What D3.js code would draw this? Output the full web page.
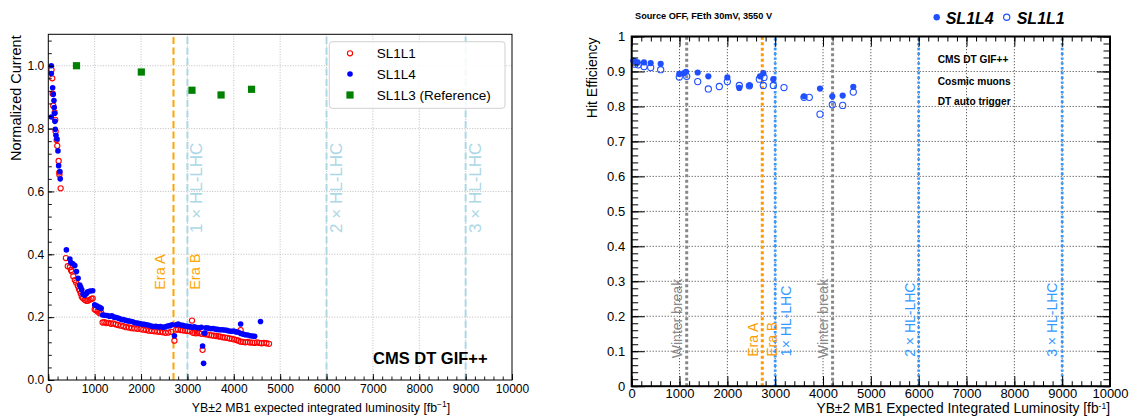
<!DOCTYPE html>
<html><head><meta charset="utf-8">
<script src="https://cdn.jsdelivr.net/npm/d3@7"></script>
<style>
body{margin:0;background:#fff;}
svg{display:block;font-family:"Liberation Sans",Arial,Helvetica,sans-serif;}
</style>
</head><body>
<svg id="c" width="1135" height="416"></svg>
<script>
// ================= DATA =================
// Left panel: normalized current vs integrated luminosity
const leftSL1L1 = [
 [70,0.987],[86,0.960],[94,0.911],[107,0.873],[137,0.851],[150,0.828],[158,0.791],[180,0.764],[193,0.745],[223,0.697],[236,0.660],[240,0.653],[266,0.610],
 [379,0.388],[420,0.362],[465,0.359],[490,0.350],[508,0.345],[540,0.330],[572,0.318],[600,0.310],[636,0.300],[660,0.290],[679,0.284],[700,0.275],[722,0.265],[750,0.260],[786,0.255],[820,0.252],[850,0.252],[890,0.255],[930,0.258],[957,0.260],
 [1000,0.225],[1021,0.223],[1060,0.218],[1107,0.212],[1140,0.214],[1171,0.183],[1210,0.184],[1250,0.181],[1300,0.182],[1350,0.179],[1400,0.180],[1450,0.177],[1500,0.175],[1563,0.173],[1620,0.171],[1680,0.168],[1740,0.167],[1800,0.165],[1860,0.164],[1920,0.163],[1992,0.162],
 [2050,0.160],[2110,0.159],[2170,0.157],[2230,0.156],[2290,0.155],[2350,0.154],[2410,0.153],[2470,0.152],[2530,0.150],[2590,0.151],[2650,0.153],[2720,0.125],[2760,0.160],[2800,0.161],[2850,0.159],[2900,0.158],[2950,0.157],[3000,0.156],[3050,0.155],[3099,0.189],
 [3120,0.150],[3170,0.149],[3206,0.149],[3250,0.150],[3300,0.147],[3327,0.096],[3370,0.146],[3420,0.145],[3470,0.143],[3520,0.142],[3570,0.141],[3620,0.140],[3670,0.139],[3706,0.138],[3760,0.136],[3810,0.135],[3860,0.134],[3910,0.132],[3960,0.131],
 [4010,0.129],[4060,0.127],[4100,0.125],[4148,0.159],[4150,0.122],[4200,0.121],[4250,0.120],[4300,0.121],[4350,0.119],[4400,0.119],[4450,0.118],[4500,0.120],[4550,0.118],[4600,0.117],[4650,0.118],[4705,0.117],[4760,0.115]
];
const leftSL1L4 = [
 [64,1.000],[64,0.975],[94,0.930],[107,0.909],[122,0.889],[128,0.867],[137,0.849],[64,0.837],[143,0.823],[150,0.798],[165,0.779],[186,0.767],[208,0.729],[223,0.682],[250,0.663],[257,0.640],
 [390,0.414],[465,0.385],[486,0.374],[530,0.370],[572,0.364],[608,0.345],[643,0.324],[679,0.302],[700,0.295],[722,0.287],[750,0.273],[780,0.270],[807,0.273],[830,0.277],[850,0.281],[900,0.283],[957,0.284],
 [1000,0.239],[1043,0.236],[1075,0.232],[1107,0.231],[1140,0.228],[1171,0.207],[1220,0.206],[1270,0.205],[1320,0.203],[1370,0.204],[1420,0.200],[1470,0.199],[1520,0.196],[1570,0.193],[1620,0.192],[1670,0.190],[1720,0.188],[1770,0.187],[1820,0.185],[1870,0.182],[1920,0.181],[1970,0.180],
 [2020,0.178],[2070,0.177],[2120,0.176],[2170,0.174],[2220,0.172],[2270,0.170],[2320,0.171],[2370,0.169],[2420,0.170],[2470,0.168],[2520,0.169],[2570,0.172],[2620,0.173],[2670,0.176],[2720,0.141],[2760,0.176],[2800,0.178],[2850,0.175],[2900,0.174],[2950,0.172],
 [3000,0.171],[3050,0.170],[3100,0.168],[3150,0.169],[3200,0.167],[3250,0.166],[3300,0.168],[3327,0.108],[3349,0.053],[3370,0.149],[3400,0.166],[3450,0.165],[3500,0.163],[3550,0.164],[3600,0.162],[3650,0.161],[3700,0.160],[3750,0.160],[3800,0.159],[3850,0.158],[3900,0.156],[3950,0.155],
 [4000,0.156],[4050,0.153],[4100,0.152],[4148,0.178],[4150,0.148],[4200,0.146],[4250,0.144],[4300,0.143],[4350,0.141],[4400,0.140],[4450,0.139],[4576,0.186]
];
const leftSL1L3 = [[608,1.000],[2006,0.980],[3098,0.922],[3726,0.907],[4383,0.925]];
const leftLegend = ["SL1L1","SL1L4","SL1L3 (Reference)"];
const leftXTicks = [0,1000,2000,3000,4000,5000,6000,7000,8000,9000,10000];
const leftYTicks = [0,0.2,0.4,0.6,0.8,1.0];
const leftEraLines = [2700];
const leftHLLines = [3000,6000,9000];
const leftHLLabels = ["1 × HL-LHC","2 × HL-LHC","3 × HL-LHC"];

// Right panel: hit efficiency vs integrated luminosity
const rightSL1L4 = [
 [34,0.931],[69,0.929],[125,0.926],[257,0.926],[397,0.924],[606,0.922],[995,0.893],[1093,0.895],[1135,0.899],[1380,0.897],[1602,0.886],[2000,0.883],[2250,0.853],[2467,0.860],[2682,0.886],[2752,0.895],[2961,0.878],[3602,0.829],[3937,0.851],[4194,0.829],[4411,0.831],[4633,0.856]
];
const rightSL1L1 = [
 [69,0.921],[138,0.919],[257,0.914],[397,0.911],[606,0.905],[995,0.884],[1150,0.886],[1380,0.871],[1602,0.850],[1832,0.857],[2000,0.871],[2250,0.860],[2460,0.859],[2668,0.878],[2752,0.860],[2766,0.883],[2961,0.860],[3184,0.854],[3602,0.826],[3713,0.826],[3937,0.778],[4194,0.805],[4411,0.803],[4633,0.841]
];
const rightXTicks = [0,1000,2000,3000,4000,5000,6000,7000,8000,9000,10000];
const rightYTicks = [0,0.1,0.2,0.3,0.4,0.5,0.6,0.7,0.8,0.9,1];
const rightWinterLines = [1150,4200];
const rightEraLines = [2730];
const rightHLLines = [3000,6000,9000];
const rightHLLabels = ["1× HL-LHC","2 × HL-LHC","3 × HL-LHC"];
const rightInfo = ["CMS DT GIF++","Cosmic muons","DT auto trigger"];

// ================= DRAW =================
const svg = d3.select('#c');

function vtext(g, x, y, txt, color, size, weight){
  return g.append('text').attr('transform',`translate(${x},${y}) rotate(-90)`)
    .attr('fill',color).style('font-size',size+'px').style('font-weight',weight||'normal').text(txt);
}

// ---------- LEFT ----------
const lx = d3.scaleLinear().domain([0,10000]).range([48.3,512]);
const ly = d3.scaleLinear().domain([0,1.1]).range([380,34.3]);
const gl = svg.append('g');

// grid
gl.append('g').selectAll('line').data(leftXTicks.slice(1,-1)).join('line')
  .attr('x1',d=>lx(d)).attr('x2',d=>lx(d)).attr('y1',ly(0)).attr('y2',ly(1.1))
  .attr('stroke','#b8b8b8').attr('stroke-width',0.9).attr('stroke-dasharray','1,1.6');
gl.append('g').selectAll('line').data(leftYTicks.slice(1)).join('line')
  .attr('x1',lx(0)).attr('x2',lx(10000)).attr('y1',d=>ly(d)).attr('y2',d=>ly(d))
  .attr('stroke','#b8b8b8').attr('stroke-width',0.9).attr('stroke-dasharray','1,1.6');

// vertical lines
gl.append('g').selectAll('line').data(leftEraLines).join('line')
  .attr('x1',d=>lx(d)).attr('x2',d=>lx(d)).attr('y1',ly(0)).attr('y2',ly(1.1))
  .attr('stroke','#ffa500').attr('stroke-width',2).attr('stroke-dasharray','7,3.5');
gl.append('g').selectAll('line').data(leftHLLines).join('line')
  .attr('x1',d=>lx(d)).attr('x2',d=>lx(d)).attr('y1',ly(0)).attr('y2',ly(1.1))
  .attr('stroke','#add8e6').attr('stroke-width',2).attr('stroke-dasharray','7,3.5');

// labels on lines
vtext(gl, lx(leftEraLines[0])-8, ly(0.287), 'Era A', '#ffa500', 14.5);
vtext(gl, lx(leftHLLines[0])+12.5, ly(0.287), 'Era B', '#ffa500', 14.5);
leftHLLines.forEach((v,i)=>vtext(gl, lx(v)+15, ly(0.468), leftHLLabels[i], '#add8e6', 17));

// data
gl.append('g').selectAll('circle').data(leftSL1L1).join('circle')
  .attr('cx',d=>lx(d[0])).attr('cy',d=>ly(d[1])).attr('r',2.6)
  .attr('fill','none').attr('stroke','#ff0000').attr('stroke-width',1.1);
gl.append('g').selectAll('circle').data(leftSL1L4).join('circle')
  .attr('cx',d=>lx(d[0])).attr('cy',d=>ly(d[1])).attr('r',2.8).attr('fill','#0000ff');
gl.append('g').selectAll('rect').data(leftSL1L3).join('rect')
  .attr('x',d=>lx(d[0])-3.6).attr('y',d=>ly(d[1])-3.6).attr('width',7.2).attr('height',7.2).attr('fill','#008000');

// axes
const lxa = gl.append('g').attr('transform',`translate(0,${ly(0)})`)
  .call(d3.axisBottom(lx).tickValues(leftXTicks).tickSize(-6).tickPadding(4).tickFormat(d3.format('d')));
const lxm = gl.append('g').attr('transform',`translate(0,${ly(0)})`)
  .call(d3.axisBottom(lx).tickValues(d3.range(0,10001,200)).tickSize(-3.5).tickFormat(''));
const lya = gl.append('g').attr('transform',`translate(${lx(0)},0)`)
  .call(d3.axisLeft(ly).tickValues(leftYTicks).tickSize(-6).tickPadding(4).tickFormat(d3.format('.1f')));
const lym = gl.append('g').attr('transform',`translate(${lx(0)},0)`)
  .call(d3.axisLeft(ly).tickValues(d3.range(0,1.1,0.04)).tickSize(-3.5).tickFormat(''));
[lxa,lxm,lya,lym].forEach(a=>{a.select('.domain').remove(); a.selectAll('text').style('font-size','12px').attr('fill','#000'); a.selectAll('line').attr('stroke','#000').attr('stroke-width',0.9);});
gl.append('rect').attr('x',lx(0)).attr('y',ly(1.1)).attr('width',lx(10000)-lx(0)).attr('height',ly(0)-ly(1.1))
  .attr('fill','none').attr('stroke','#000').attr('stroke-width',1);

// axis titles
gl.append('text').attr('transform',`translate(21,${ly(1.1)+1}) rotate(-90)`).attr('text-anchor','end')
  .style('font-size','14.5px').text('Normalized Current');
const lxt = gl.append('text').attr('x',321).attr('y',412).attr('text-anchor','middle').style('font-size','12.3px');
lxt.append('tspan').text('YB±2 MB1 expected integrated luminosity [fb');
lxt.append('tspan').attr('dy',-5).style('font-size','8.5px').text('−1');
lxt.append('tspan').attr('dy',5).text(']');

// legend
const lg = gl.append('g');
lg.append('rect').attr('x',329.3).attr('y',41.7).attr('width',175.7).attr('height',66.6).attr('rx',3)
  .attr('fill','#fff').attr('fill-opacity',0.85).attr('stroke','#d0d0d0').attr('stroke-width',1);
const lgy = [53.3,74,95];
lg.append('circle').attr('cx',350).attr('cy',lgy[0]).attr('r',2.6).attr('fill','none').attr('stroke','#ff0000').attr('stroke-width',1.1);
lg.append('circle').attr('cx',350).attr('cy',lgy[1]).attr('r',2.8).attr('fill','#0000ff');
lg.append('rect').attr('x',350-3.6).attr('y',lgy[2]-3.6).attr('width',7.2).attr('height',7.2).attr('fill','#008000');
leftLegend.forEach((t,i)=>lg.append('text').attr('x',376.7).attr('y',lgy[i]+5).style('font-size','13.5px').text(t));

gl.append('text').attr('x',373).attr('y',364).style('font-size','16.5px').style('font-weight','bold').text('CMS DT GIF++');

// ---------- RIGHT ----------
const rx = d3.scaleLinear().domain([0,10000]).range([631.7,1110]);
const ry = d3.scaleLinear().domain([0,1]).range([386.2,36.5]);
const gr = svg.append('g');

// grid
gr.append('g').selectAll('line').data(rightXTicks.slice(1,-1)).join('line')
  .attr('x1',d=>rx(d)).attr('x2',d=>rx(d)).attr('y1',ry(0)).attr('y2',ry(1))
  .attr('stroke','#222').attr('stroke-width',0.9).attr('stroke-dasharray','1,2');
gr.append('g').selectAll('line').data(rightYTicks.slice(1,-1)).join('line')
  .attr('x1',rx(0)).attr('x2',rx(10000)).attr('y1',d=>ry(d)).attr('y2',d=>ry(d))
  .attr('stroke','#222').attr('stroke-width',0.9).attr('stroke-dasharray','1,2');

// vertical lines
gr.append('g').selectAll('line').data(rightWinterLines).join('line')
  .attr('x1',d=>rx(d)).attr('x2',d=>rx(d)).attr('y1',ry(0)).attr('y2',ry(1))
  .attr('stroke','#888').attr('stroke-width',3).attr('stroke-dasharray','3,2.5');
gr.append('g').selectAll('line').data(rightEraLines).join('line')
  .attr('x1',d=>rx(d)).attr('x2',d=>rx(d)).attr('y1',ry(0)).attr('y2',ry(1))
  .attr('stroke','#ff9a00').attr('stroke-width',3).attr('stroke-dasharray','3,2.5');
gr.append('g').selectAll('line').data(rightHLLines).join('line')
  .attr('x1',d=>rx(d)).attr('x2',d=>rx(d)).attr('y1',ry(0)).attr('y2',ry(1))
  .attr('stroke','#3399ff').attr('stroke-width',2.8).attr('stroke-dasharray','2.4,2.4');

// line labels
rightWinterLines.forEach(v=>vtext(gr, rx(v)-5, ry(0.08), 'Winter break', '#888', 14));
vtext(gr, rx(rightEraLines[0])-4.6, ry(0.084), 'Era A', '#ff9a00', 14);
vtext(gr, rx(rightHLLines[0])+2, ry(0.084), 'Era B', '#ff9a00', 14);
vtext(gr, rx(rightHLLines[0])+15.5, ry(0.086), rightHLLabels[0], '#3399ff', 14);
vtext(gr, rx(rightHLLines[1])-4, ry(0.084), rightHLLabels[1], '#3399ff', 14);
vtext(gr, rx(rightHLLines[2])-4.7, ry(0.084), rightHLLabels[2], '#3399ff', 14);

// data
const mcol = '#1f4fff';
gr.append('g').selectAll('circle').data(rightSL1L1).join('circle')
  .attr('cx',d=>rx(d[0])).attr('cy',d=>ry(d[1])).attr('r',3.1)
  .attr('fill','none').attr('stroke',mcol).attr('stroke-width',1.1);
gr.append('g').selectAll('circle').data(rightSL1L4).join('circle')
  .attr('cx',d=>rx(d[0])).attr('cy',d=>ry(d[1])).attr('r',3.1).attr('fill',mcol);

// axes with inward ticks on all sides
function styleAx(a){a.select('.domain').remove(); a.selectAll('text').style('font-size','13px').attr('fill','#000'); a.selectAll('line').attr('stroke','#000').attr('stroke-width',1);}
const rxa = gr.append('g').attr('transform',`translate(0,${ry(0)})`)
  .call(d3.axisBottom(rx).tickValues(rightXTicks).tickSize(-10).tickPadding(2.4).tickFormat(d3.format('d')));
const rxm = gr.append('g').attr('transform',`translate(0,${ry(0)})`)
  .call(d3.axisBottom(rx).tickValues(d3.range(0,10001,200)).tickSize(-5).tickFormat(''));
const rxt = gr.append('g').attr('transform',`translate(0,${ry(1)})`)
  .call(d3.axisTop(rx).tickValues(rightXTicks).tickSize(-10).tickFormat(''));
const rxtm = gr.append('g').attr('transform',`translate(0,${ry(1)})`)
  .call(d3.axisTop(rx).tickValues(d3.range(0,10001,200)).tickSize(-5).tickFormat(''));
const rya = gr.append('g').attr('transform',`translate(${rx(0)},0)`)
  .call(d3.axisLeft(ry).tickValues(rightYTicks).tickSize(-13).tickPadding(6.5).tickFormat(d=>d===0?'0':d===1?'1':d3.format('.1f')(d)));
const rym = gr.append('g').attr('transform',`translate(${rx(0)},0)`)
  .call(d3.axisLeft(ry).tickValues(d3.range(0,1.001,0.02)).tickSize(-6.5).tickFormat(''));
const ryr = gr.append('g').attr('transform',`translate(${rx(10000)},0)`)
  .call(d3.axisRight(ry).tickValues(rightYTicks).tickSize(-13).tickFormat(''));
const ryrm = gr.append('g').attr('transform',`translate(${rx(10000)},0)`)
  .call(d3.axisRight(ry).tickValues(d3.range(0,1.001,0.02)).tickSize(-6.5).tickFormat(''));
[rxa,rxm,rxt,rxtm,rya,rym,ryr,ryrm].forEach(styleAx);
gr.append('rect').attr('x',rx(0)).attr('y',ry(1)).attr('width',rx(10000)-rx(0)).attr('height',ry(0)-ry(1))
  .attr('fill','none').attr('stroke','#000').attr('stroke-width',2);

// titles
gr.append('text').attr('transform',`translate(597,${ry(1)+1}) rotate(-90)`).attr('text-anchor','end')
  .style('font-size','14px').text('Hit Efficiency');
const rxl = gr.append('text').attr('x',1110).attr('y',413).attr('text-anchor','end').style('font-size','13.8px');
rxl.append('tspan').text('YB±2 MB1 Expected Integrated Luminosity [fb');
rxl.append('tspan').attr('dy',-4.5).style('font-size','8.5px').text('-1');
rxl.append('tspan').attr('dy',4.5).text(']');

// header
gr.append('text').attr('x',635).attr('y',19).style('font-size','9.2px').style('font-weight','bold').text('Source OFF, FEth 30mV, 3550 V');
gr.append('circle').attr('cx',936.7).attr('cy',17.3).attr('r',3.2).attr('fill',mcol);
gr.append('text').attr('x',945.7).attr('y',23.5).style('font-size','16px').style('font-weight','bold').style('font-style','italic').text('SL1L4');
gr.append('circle').attr('cx',1006.7).attr('cy',17.3).attr('r',3.1).attr('fill','none').attr('stroke',mcol).attr('stroke-width',1.2);
gr.append('text').attr('x',1016.7).attr('y',23.5).style('font-size','16px').style('font-weight','bold').style('font-style','italic').text('SL1L1');

// info text
const infoY = [62.7,85,105];
rightInfo.forEach((t,i)=>gr.append('text').attr('x',937.7).attr('y',infoY[i]).style('font-size','10.2px').style('font-weight','bold').text(t));
</script>
</body></html>
